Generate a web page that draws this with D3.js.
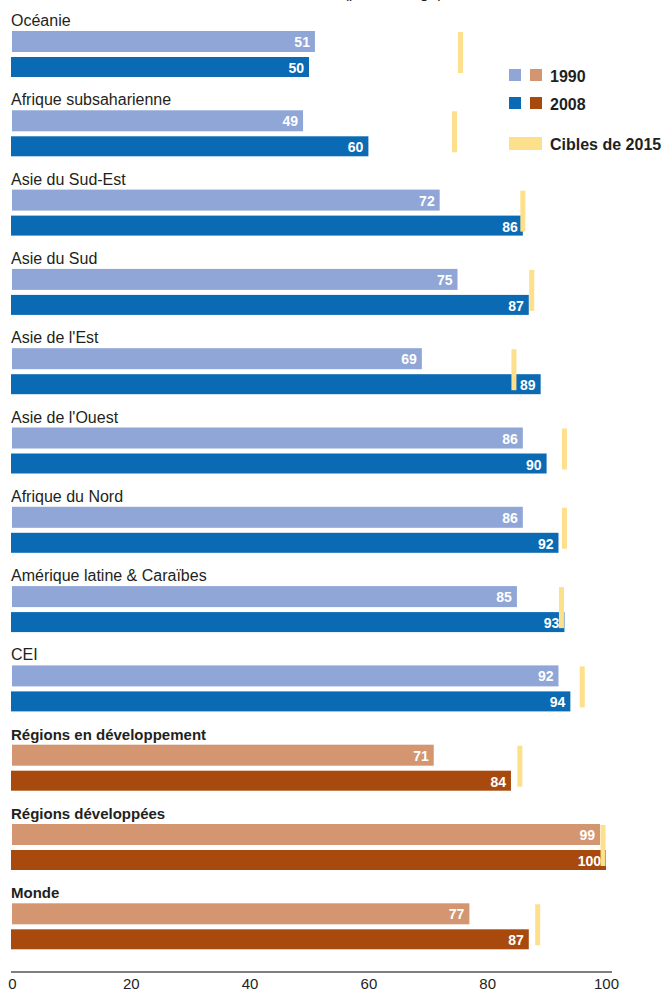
<!DOCTYPE html>
<html>
<head>
<meta charset="utf-8">
<script src="https://cdn.jsdelivr.net/npm/d3@7"></script>
<style>
  body { margin: 0; background: #fff; }
  svg { display: block; font-family: "Liberation Sans", Arial, sans-serif; }
  .region { font-size: 16px; fill: #231f20; }
  .region.bold { font-size: 15px; font-weight: bold; }
  .value { font-size: 14px; font-weight: bold; fill: #fff; text-anchor: end; }
  .legend { font-size: 16px; font-weight: bold; fill: #231f20; }
</style>
</head>
<body>
<div id="chart"></div>
<script>
// data
var regions = ["Océanie", "Afrique subsaharienne", "Asie du Sud-Est", "Asie du Sud",
    "Asie de l'Est", "Asie de l'Ouest", "Afrique du Nord", "Amérique latine & Caraïbes",
    "CEI", "Régions en développement", "Régions développées", "Monde"];
var values1990 = [51, 49, 72, 75, 69, 86, 86, 85, 92, 71, 99, 77];
var values2008 = [50, 60, 86, 87, 89, 90, 92, 93, 94, 84, 100, 87];
var targets2015 = [75.5, 74.5, 86, 87.5, 84.5, 93, 93, 92.5, 96, 85.5, 99.5, 88.5];
var aggregates = ["Régions en développement", "Régions développées", "Monde"];
var tickValues = [0, 20, 40, 60, 80, 100];

var colors = {
    light: "#8fa6d6", dark: "#0b6ab4",
    lightAgg: "#d39671", darkAgg: "#a84a0e",
    target: "#fde08c"
};

var width = 665, height = 992;

var svg = d3.select("#chart").append("svg")
    .attr("width", width)
    .attr("height", height);

var x = d3.scaleLinear().domain([0, 100]).range([12, 606]);
var y = d3.scaleBand().domain(regions).range([10, 10 + 12 * 79.3]);

var barH = 21;

var data = regions.map(function (r, i) {
    return { name: r, v1990: values1990[i], v2008: values2008[i], target: targets2015[i],
        agg: aggregates.indexOf(r) >= 0 };
});

// title, cut off at the top edge as in the source
svg.append("text")
    .attr("x", 443).attr("y", -2.5)
    .attr("text-anchor", "end")
    .style("font-size", "16px").style("fill", "#231f20")
    .text("(pourcentage)");

var groups = svg.selectAll("g.region-group").data(data)
    .enter().append("g")
    .attr("class", "region-group")
    .attr("transform", function (d) { return "translate(0," + y(d.name) + ")"; });

groups.append("text")
    .attr("class", function (d) { return d.agg ? "region bold" : "region"; })
    .attr("x", 11).attr("y", 16)
    .text(function (d) { return d.name; });

groups.append("rect")
    .attr("x", x(0)).attr("y", 21)
    .attr("width", function (d) { return x(d.v1990) - x(0); })
    .attr("height", barH)
    .attr("fill", function (d) { return d.agg ? colors.lightAgg : colors.light; });

groups.append("rect")
    .attr("x", x(0) - 1).attr("y", 47)
    .attr("width", function (d) { return x(d.v2008) - x(0) + 1; })
    .attr("height", barH - 1)
    .attr("fill", function (d) { return d.agg ? colors.darkAgg : colors.dark; });

groups.append("rect")
    .attr("x", function (d) { return x(d.target) - 2.5; })
    .attr("y", 22)
    .attr("width", 5)
    .attr("height", 41)
    .attr("fill", colors.target);

groups.append("text")
    .attr("class", "value")
    .attr("x", function (d) { return x(d.v1990) - 5; })
    .attr("y", 37)
    .text(function (d) { return d.v1990; });

groups.append("text")
    .attr("class", "value")
    .attr("x", function (d) { return x(d.v2008) - 5; })
    .attr("y", 63)
    .text(function (d) { return d.v2008; });

// axis
var axis = svg.append("g")
    .attr("transform", "translate(0,972)")
    .call(d3.axisBottom(x).tickValues(tickValues).tickSize(0).tickPadding(6));
axis.select(".domain").remove();
axis.append("line")
    .attr("x1", 11).attr("x2", 612)
    .attr("stroke", "#555").attr("stroke-width", 1.5);
axis.selectAll("text")
    .style("font-size", "15px")
    .style("font-family", "\"Liberation Sans\", Arial, sans-serif")
    .attr("fill", "#231f20");

// legend
var legend = svg.append("g");
var legendRows = [
    { label: "1990", c1: colors.light, c2: colors.lightAgg, y: 69 },
    { label: "2008", c1: colors.dark, c2: colors.darkAgg, y: 97 }
];
legendRows.forEach(function (r) {
    legend.append("rect").attr("x", 509).attr("y", r.y).attr("width", 12).attr("height", 12).attr("fill", r.c1);
    legend.append("rect").attr("x", 530).attr("y", r.y).attr("width", 12).attr("height", 12).attr("fill", r.c2);
    legend.append("text").attr("class", "legend").attr("x", 550).attr("y", r.y + 13).text(r.label);
});
legend.append("rect").attr("x", 509).attr("y", 137).attr("width", 33).attr("height", 13).attr("fill", colors.target);
legend.append("text").attr("class", "legend").attr("x", 550).attr("y", 150).text("Cibles de 2015");
</script>
</body>
</html>
